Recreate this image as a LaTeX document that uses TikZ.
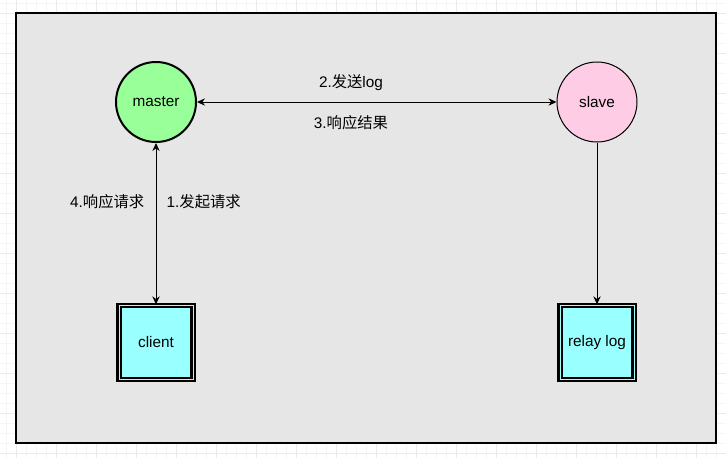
\documentclass[tikz,border=0pt]{standalone}
\usepackage{fontspec}
\setmainfont{Liberation Sans}
\newfontfamily\cjk{Noto Sans CJK SC}
\usetikzlibrary{arrows.meta}

\definecolor{nodegreen}{HTML}{99FF99}
\definecolor{nodepink}{HTML}{FFCCE6}
\definecolor{nodecyan}{HTML}{99FFFF}
\definecolor{panelgray}{HTML}{E6E6E6}

\tikzset{
  every node/.style={font=\fontsize{11.5}{13}\selectfont},
  minorgrid/.style={draw=black!4, line width=0.5pt},
  majorgrid/.style={draw=black!8, line width=0.75pt},
  roundnode/.style={circle, draw, minimum size=60pt, inner sep=0pt},
  logbox/.style={rectangle, draw, double=nodecyan, double distance=0.75pt,
    line width=1.7pt, fill=nodecyan, minimum size=55.5pt, inner sep=0pt},
  link/.style={line width=0.75pt, >={Stealth[length=6pt,width=5.5pt]}},
}

\begin{document}
\begin{tikzpicture}[x=0.75pt, y=-0.75pt]
    \useasboundingbox (0,0) rectangle (726,458);

    % Grid
    \foreach \gx in {6,16,...,726} \draw[minorgrid] (\gx,0) -- (\gx,458);
    \foreach \gy in {3,13,...,458} \draw[minorgrid] (0,\gy) -- (726,\gy);
    \foreach \gx in {16,56,...,726} \draw[majorgrid] (\gx,0) -- (\gx,458);
    \foreach \gy in {13,53,...,458} \draw[majorgrid] (0,\gy) -- (726,\gy);

    % Panel
    \draw[line width=1.1pt, fill=panelgray] (16,13) rectangle (716,443);

    % Nodes
    \node[roundnode, fill=nodegreen, line width=1.5pt] (master) at (156,102) {master};
    \node[roundnode, fill=nodepink, line width=0.75pt] (slave) at (597,102) {slave};
    \node[logbox] (client) at (156,342.5) {client};
    \node[logbox] (relaylog) at (597,342.5) {relay log};

    % Labels
    \node (send) at (351,83) {2.{\cjk 发送}log};
    \node (reply) at (351,123) {3.{\cjk 响应结果}};
    \node[anchor=east] (answer) at (149,202) {4.{\cjk 响应请求}};
    \node[anchor=west] (request) at (162,202) {1.{\cjk 发起请求}};

    % Connectors
    \draw[link, <->] (master) -- (slave);
    \draw[link, <->] (master) -- (client);
    \draw[link, ->] (slave) -- (relaylog);
\end{tikzpicture}
\end{document}
